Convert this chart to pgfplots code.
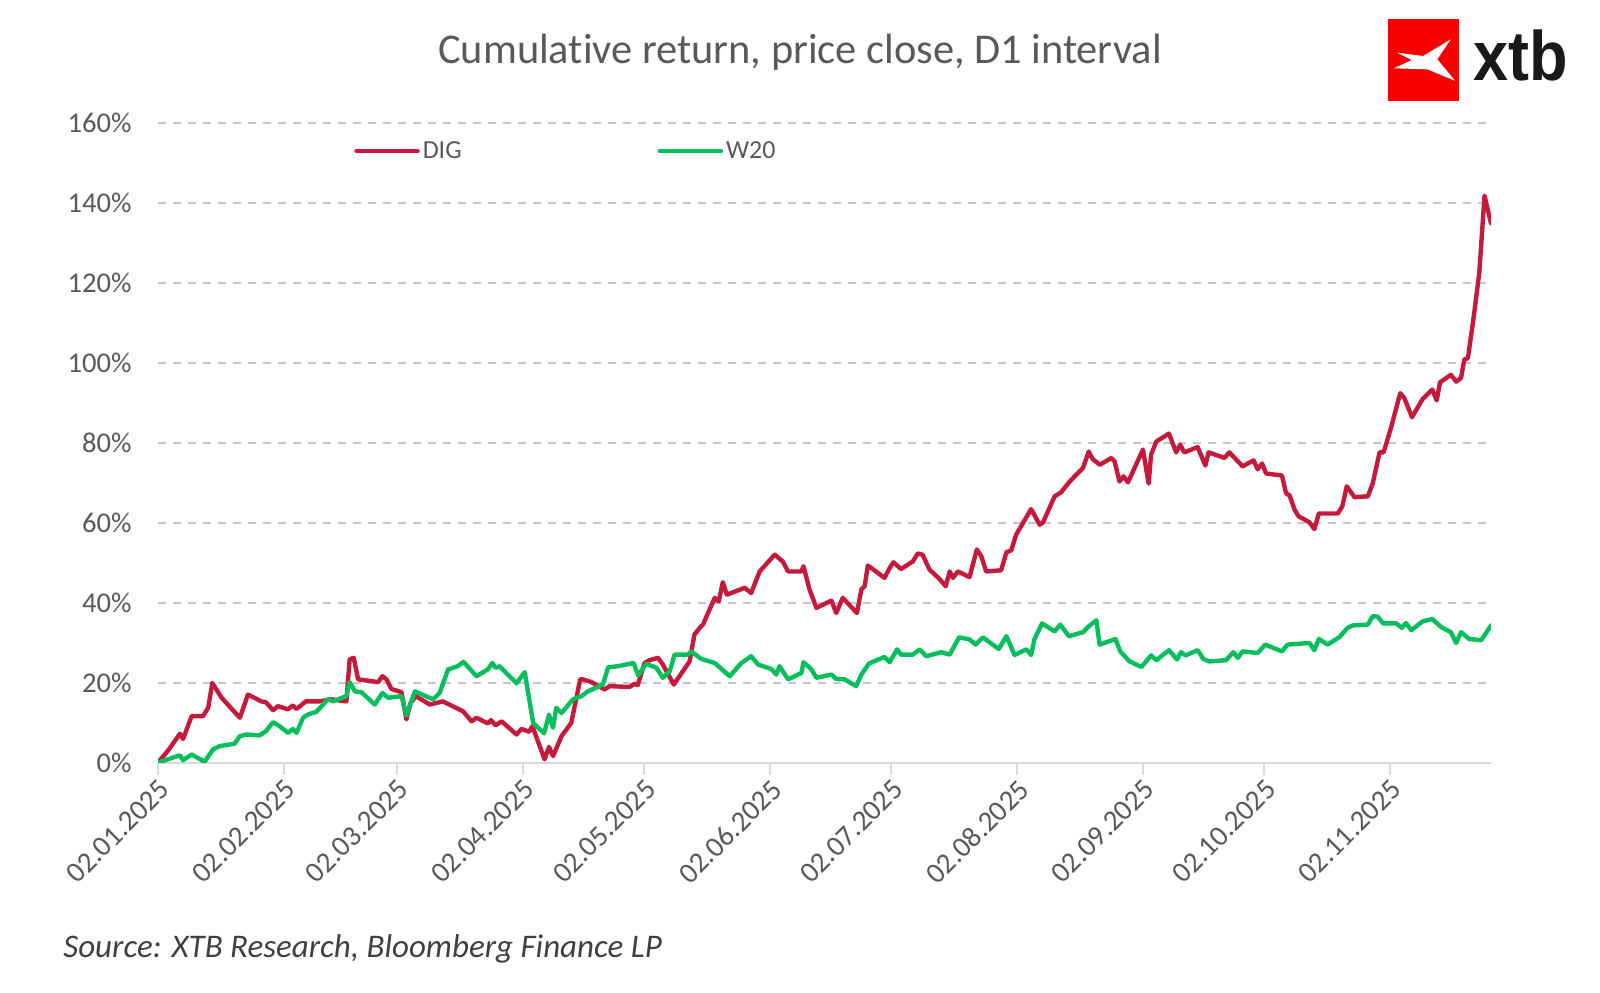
\documentclass[border=0pt]{standalone}
\usepackage{pgfplots}
\pgfplotsset{compat=1.18}
\usepackage{fontspec}
\setmainfont{Carlito}[Ligatures=NoCommon]
\newfontfamily\logofont{Liberation Sans}

\definecolor{txtgray}{HTML}{595959}
\definecolor{srcgray}{HTML}{404040}
\definecolor{gridgray}{HTML}{C6C6C6}
\definecolor{axisgray}{HTML}{D9D9D9}
\definecolor{digred}{HTML}{C41A3B}
\definecolor{wgreen}{HTML}{06BF5C}
\definecolor{logored}{HTML}{F70000}

\begin{document}
\begin{tikzpicture}
\useasboundingbox (0,0) rectangle (800pt,-496pt);

% x = days since 02.01.2025, y = cumulative return in %
\begin{axis}[
    scale only axis,
    width=666.5pt, height=319.75pt,
    at={(79pt,-381.25pt)}, anchor=south west,
    xmin=0, xmax=329, ymin=0, ymax=160,
    axis x line*=bottom, axis y line*=left,
    x axis line style={draw=axisgray, line width=1pt},
    y axis line style={draw=none},
    xtick={0,31,59,90,120,151,181,212,243,273,304},
    xticklabels={02.01.2025,02.02.2025,02.03.2025,02.04.2025,02.05.2025,02.06.2025,
                 02.07.2025,02.08.2025,02.09.2025,02.10.2025,02.11.2025},
    ytick={0,20,...,160},
    yticklabels={0\%,20\%,40\%,60\%,80\%,100\%,120\%,140\%,160\%},
    tick align=outside,
    major tick length=6pt,
    xtick style={draw=axisgray, line width=1pt},
    ytick style={draw=none},
    ymajorgrids,
    major grid style={draw=gridgray, line width=1pt, dash pattern=on 4.2pt off 3.3pt},
    tick label style={text=txtgray},
    xticklabel style={rotate=45, anchor=north east, inner sep=1pt,
        font=\fontsize{14.5}{16}\selectfont},
    yticklabel style={inner sep=1pt, xshift=-6pt, font=\fontsize{14.3}{16}\selectfont},
    legend columns=2,
    legend style={at={(0.147,0.956)}, anchor=west, draw=none, fill=none,
        inner sep=0pt, font=\fontsize{13}{15}\selectfont, text=txtgray,
        nodes={inner sep=1.5pt},
        /tikz/every even column/.append style={column sep=96.5pt}},
    legend image code/.code={\draw[#1] (0pt,0pt) -- (30.5pt,0pt);},
    every axis plot/.append style={line width=2.2pt, line join=round, line cap=round},
]

\addplot[digred] coordinates {
(0,0) (2.5,3) (5.4,7.2) (6.2,5.9) (8.3,11.6) (11.1,11.6) (12.4,13.7) (13.4,19.9)
(15.7,16.2) (20.2,11.2) (22.2,17) (25.5,15.3) (26.6,15.1) (28.4,13.1) (29.6,14.1)
(32.1,13.3) (33.3,14.3) (34.2,13.4) (36.5,15.3) (39.9,15.3) (42.8,15.8) (46.5,15.3)
(47.3,25.8) (48.3,26.2) (49.4,20.8) (53.1,20.3) (54.3,20.1) (55.4,21.6) (56.4,20.8)
(57.6,18.4) (60.1,17.6) (61.3,10.8) (62.3,14.8) (63.6,16.6) (67.1,14.5) (70.3,15.3)
(75.3,12.8) (77.4,10.3) (78.6,11.2) (81.4,9.8) (82.2,10.6) (83.3,9.3) (84.8,10.3)
(88.5,7) (89.7,8.4) (91.6,7.7) (92.4,9.1) (95.4,0.8) (96.5,3.9) (97.5,1.6) (99.6,6.6)
(102,9.9) (104.2,20.8) (104.9,20.8) (107,20.1) (110.2,18.3) (111.5,19.1) (116.4,18.9)
(117.6,19.7) (118.4,19.4) (120.1,24.9) (121.3,25.6) (123.4,26.2) (124.6,24.5)
(127.3,19.5) (131.2,25.3) (132.4,32) (133.7,33.7) (134.5,34.5) (137.4,41.2)
(138.4,40.3) (139.4,45.1) (140.4,42) (144.8,43.7) (146.4,42.4) (148.5,47.8)
(152.2,52) (154.2,50.3) (155.5,47.8) (158.8,47.8) (159.3,49.1) (160.8,43.3)
(162.5,38.7) (166.2,40.5) (167.4,37.4) (169,41.2) (172.5,37.4) (173.6,43.3)
(174.4,44.1) (175.2,49.3) (179.3,46.2) (180.6,48.7) (181.5,50.1) (183.4,48.4)
(186.3,50.3) (187.5,52.3) (188.7,52) (190.4,48.3) (192.9,45.9) (194.4,44.1)
(195.4,47.8) (196.2,46.2) (197.4,47.8) (200.3,46.4) (202.1,53.3) (203.2,51.6)
(204.4,47.8) (208.1,48.1) (209.4,52.6) (210.6,53.1) (211.8,57) (215.5,63.4)
(217.6,59.5) (218.4,60) (221.3,66.6) (222.9,67.6) (225,70.3) (228.3,73.7)
(229.7,77.8) (230.7,75.9) (232.5,74.5) (235.3,76.2) (236.1,75.3) (237.3,70.3)
(238.3,71.6) (239.4,70.1) (243.1,78.3) (244.5,69.8) (245.1,77) (246.4,80.3)
(249.5,82.3) (251.3,77.6) (252.3,79.5) (253.3,77.6) (256.6,78.9) (258.5,74.3)
(259.3,77.6) (263.2,76.2) (264.4,77.6) (267.7,74.1) (270.4,75.6) (271.4,73.4)
(272.5,74.8) (273.5,72.3) (277.4,71.8) (278.4,67.4) (279.3,66.8) (280.5,63.3)
(281.5,61.6) (284.2,60.1) (285.4,58.4) (286.5,62.3) (291.2,62.3) (292.3,64.1)
(293.4,69.1) (295.3,66.4) (298.6,66.6) (299.8,69.8) (301.5,77.6) (302.5,77.6)
(304.3,83.7) (306.6,92.4) (307.6,91.2) (309.5,86.4) (312.1,90.9) (314.5,93.3)
(315.6,90.6) (316.4,95.1) (319.1,97) (320.4,95.3) (321.6,96.2) (322.4,100.8)
(323.3,101.2) (324.8,112) (326.1,122.5) (327.4,141.8) (329,134.9)
};
\addlegendentry{DIG}

\addplot[wgreen] coordinates {
(0,0) (5.4,1.8) (6.2,0.6) (8.3,2) (11.5,0.2) (13.6,3.3) (15.2,4.1) (18.9,4.7)
(20.2,6.6) (21.8,7) (25.1,6.8) (26.6,7.8) (28.4,10.1) (30,9.1) (32.1,7.4) (33.3,8.4)
(34.2,7.4) (35.8,11.2) (37,12) (39.1,12.7) (42,15.9) (43.1,15.3) (46.5,16.6)
(47.3,20.1) (48.6,17.8) (50.2,17.6) (53.5,14.5) (55.4,17.4) (56.8,16.2) (60.1,16.6)
(61.3,11.8) (63.4,17.8) (67.9,15.8) (69.5,17.4) (71.6,23.3) (74,24.1) (75.4,25.2)
(78.6,21.6) (81.4,23.3) (82.5,24.9) (83.3,23.7) (84.3,24.1) (88.5,19.8) (90.5,22.6)
(92.6,9.9) (95.3,7.3) (96.5,12) (97.5,8.7) (98.3,13.7) (99.6,12.4) (102.4,15.8)
(104.5,16.6) (106.1,17.8) (109.8,19.5) (111.1,23.8) (113.5,24.1) (117.4,24.9)
(118.5,21.8) (120.5,24.7) (123,23.7) (124.6,21.2) (126.3,22.8) (127.5,27) (130.8,27)
(131.6,27.8) (134.1,25.9) (137.4,24.9) (141.1,21.6) (144,24.9) (146.4,26.6)
(148.1,24.5) (151.4,23.4) (152.6,22) (153.4,24.1) (155.5,20.8) (158.8,22.4)
(159.3,25.1) (161.2,23.4) (162.5,21.2) (166.2,22) (167.4,20.9) (169.5,20.8)
(172.3,19.1) (173.6,22) (175.5,24.8) (179.3,26.4) (180.6,25.1) (182.4,28.3) (183.4,27)
(186.3,27) (188,28.3) (189.6,26.6) (193.3,27.6) (195.4,27) (197.7,31.3) (200.3,30.8)
(201.8,29.5) (203.6,31.3) (207.5,28.4) (209.4,31.6) (211.4,26.9) (214.3,28.3)
(215.5,26.9) (216.3,30.8) (218.2,34.8) (221.3,32.8) (222.7,34.5) (224.8,31.6)
(228.3,32.6) (229.5,33.9) (231.6,35.6) (232.4,29.5) (236.3,30.9) (237.5,27.8)
(239.8,25.3) (242.7,23.9) (245.1,26.8) (246.4,25.6) (249.5,28.1) (251.5,25.8)
(252.5,27.6) (253.6,26.8) (256.6,28.1) (258,25.9) (259.5,25.3) (263.6,25.6)
(265.4,27.6) (266.5,26.2) (267.7,27.8) (271.4,27.4) (273.3,29.5) (277.4,27.8)
(278.8,29.5) (284.2,29.9) (285.4,28.1) (286.5,30.9) (288.7,29.5) (291.6,31.4)
(293.6,33.7) (294.9,34.3) (298.6,34.5) (299.8,36.6) (301,36.5) (302.4,34.8)
(305.6,34.8) (307,33.7) (308,34.9) (309.3,33.1) (312.1,35.3) (314.5,35.9)
(316.7,33.9) (319.1,32.6) (320.4,29.9) (321.6,32.6) (323.6,30.9) (326.6,30.6)
(329,34.3)
};
\addlegendentry{W20}
\end{axis}

% title, source and logo, in pixel units of the 1600x992 reference
\begin{scope}[x=0.5pt, y=-0.5pt]
\node[anchor=base, inner sep=0pt, text=txtgray, font=\fontsize{21.2}{25}\selectfont]
    at (800,63) {Cumulative return, price close, D1 interval};
\node[anchor=base west, inner sep=0pt, text=srcgray, font=\itshape\fontsize{16.5}{20}\selectfont]
    at (63,957) {Source: XTB Research, Bloomberg Finance LP};
\fill[logored] (1388,19) rectangle (1459,101);
\fill[white] (1397.3,52.7) -- (1423.3,56) -- (1450.7,39.3) -- (1437.3,59.3)
    -- (1455,80.7) -- (1427.3,69.3) -- (1394,68.3) -- (1411.7,60) -- cycle;
\node[anchor=base west, inner sep=0pt, text=black!90, xscale=0.9,
    font=\logofont\bfseries\fontsize{35}{35}\selectfont] at (1473,80) {xtb};
\end{scope}
\end{tikzpicture}
\end{document}
